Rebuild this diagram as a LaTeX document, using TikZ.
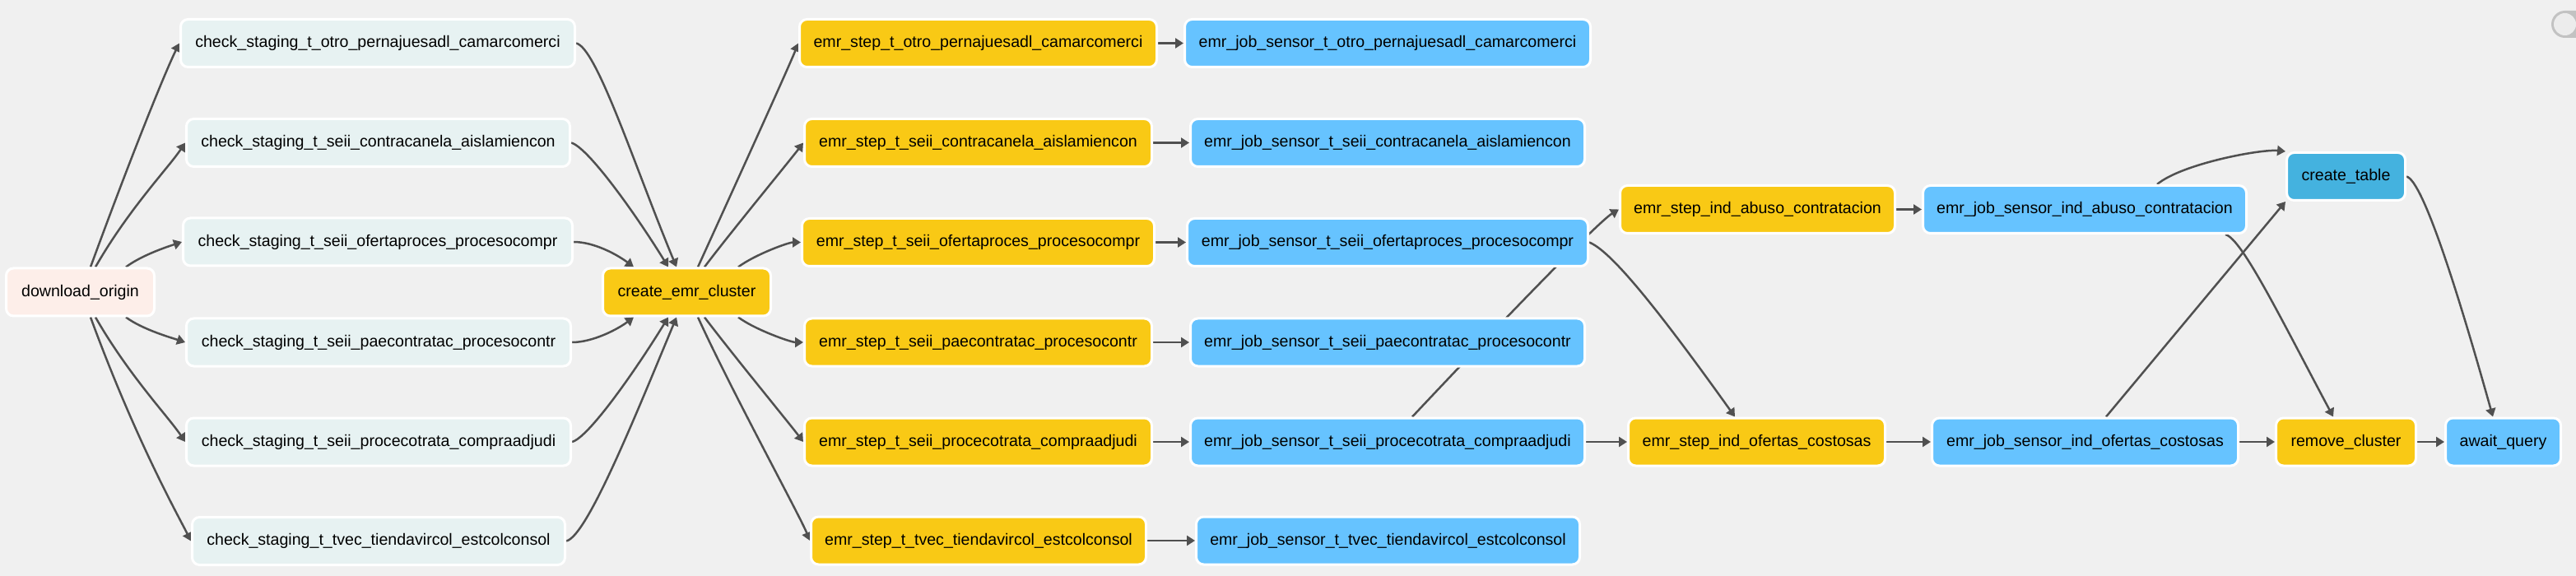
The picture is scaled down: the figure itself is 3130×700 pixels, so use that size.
\documentclass[tikz,border=0pt]{standalone}
\usepackage{fontspec}
\setmainfont{Liberation Sans}
\usetikzlibrary{arrows.meta}
\definecolor{bgc}{HTML}{F0F0F0}
\definecolor{chkc}{HTML}{E7F2F2}
\definecolor{dlc}{HTML}{FDEEE9}
\definecolor{yelc}{HTML}{F9C915}
\definecolor{lbc}{HTML}{66C3FF}
\definecolor{ctc}{HTML}{44B2DF}
\definecolor{edgec}{HTML}{505050}
\definecolor{trackc}{HTML}{C2C2C2}
\definecolor{knobc}{HTML}{ECECEC}
\pgfdeclarelayer{bglayer}
\pgfdeclarelayer{edgelayer}
\pgfsetlayers{bglayer,edgelayer,main}
\tikzset{
  box/.style={draw=white, line width=3pt, rounded corners=9pt, minimum height=58pt,
    inner sep=0pt, text=black, font=\fontsize{19.6pt}{24pt}\selectfont},
  chk/.style={box, fill=chkc},
  dl/.style={box, fill=dlc},
  yel/.style={box, fill=yelc},
  lb/.style={box, fill=lbc},
  ctb/.style={box, fill=ctc},
  edge/.style={draw=edgec, line width=2.5pt, -{Triangle[length=10pt,width=12pt]}}
}
\begin{document}
\begin{tikzpicture}[x=1pt,y=-1pt]
\begin{pgfonlayer}{bglayer}
\fill[bgc] (0,0) rectangle (3130,700);
\end{pgfonlayer}
\path[use as bounding box] (0,0) rectangle (3130,700);
\clip (0,0) rectangle (3130,700);

% toggle in the corner
\fill[trackc, rounded corners=16.5pt] (3100,13) rectangle (3170,46);
\fill[knobc] (3116.5,29.5) circle[radius=13.5];

% nodes
\node[dl, minimum width=180pt] (do) at (97.5,355) {download\_origin};
\node[chk, minimum width=479pt] (cs1) at (459,52.5) {check\_staging\_t\_otro\_pernajuesadl\_camarcomerci};
\node[chk, minimum width=466pt] (cs2) at (459.5,173.5) {check\_staging\_t\_seii\_contracanela\_aislamiencon};
\node[chk, minimum width=473pt] (cs3) at (459,294) {check\_staging\_t\_seii\_ofertaproces\_procesocompr};
\node[chk, minimum width=467pt] (cs4) at (460,416) {check\_staging\_t\_seii\_paecontratac\_procesocontr};
\node[chk, minimum width=467pt] (cs5) at (460,537) {check\_staging\_t\_seii\_procecotrata\_compraadjudi};
\node[chk, minimum width=453pt] (cs6) at (460,657.5) {check\_staging\_t\_tvec\_tiendavircol\_estcolconsol};
\node[yel, minimum width=204pt] (cec) at (834.5,355) {create\_emr\_cluster};
\node[yel, minimum width=434pt] (es1) at (1188.5,52.5) {emr\_step\_t\_otro\_pernajuesadl\_camarcomerci};
\node[yel, minimum width=422pt] (es2) at (1188.5,173.5) {emr\_step\_t\_seii\_contracanela\_aislamiencon};
\node[yel, minimum width=428pt] (es3) at (1188.5,294.5) {emr\_step\_t\_seii\_ofertaproces\_procesocompr};
\node[yel, minimum width=422pt] (es4) at (1188.5,416) {emr\_step\_t\_seii\_paecontratac\_procesocontr};
\node[yel, minimum width=422pt] (es5) at (1188.5,537) {emr\_step\_t\_seii\_procecotrata\_compraadjudi};
\node[yel, minimum width=407pt] (es6) at (1189,657) {emr\_step\_t\_tvec\_tiendavircol\_estcolconsol};
\node[lb, minimum width=493pt] (js1) at (1686,52.5) {emr\_job\_sensor\_t\_otro\_pernajuesadl\_camarcomerci};
\node[lb, minimum width=479pt] (js2) at (1686,173.5) {emr\_job\_sensor\_t\_seii\_contracanela\_aislamiencon};
\node[lb, minimum width=487pt] (js3) at (1686,294.5) {emr\_job\_sensor\_t\_seii\_ofertaproces\_procesocompr};
\node[lb, minimum width=479pt] (js4) at (1686,416) {emr\_job\_sensor\_t\_seii\_paecontratac\_procesocontr};
\node[lb, minimum width=479pt] (js5) at (1686,537) {emr\_job\_sensor\_t\_seii\_procecotrata\_compraadjudi};
\node[lb, minimum width=466pt] (js6) at (1686.5,657) {emr\_job\_sensor\_t\_tvec\_tiendavircol\_estcolconsol};
\node[yel, minimum width=334pt] (ea) at (2135.5,254.5) {emr\_step\_ind\_abuso\_contratacion};
\node[lb, minimum width=393pt] (ja) at (2533,254.5) {emr\_job\_sensor\_ind\_abuso\_contratacion};
\node[ctb, minimum width=144pt] (ct) at (2850.5,214.5) {create\_table};
\node[yel, minimum width=312pt] (eo) at (2134.5,537) {emr\_step\_ind\_ofertas\_costosas};
\node[lb, minimum width=372pt] (jo) at (2533.5,537) {emr\_job\_sensor\_ind\_ofertas\_costosas};
\node[yel, minimum width=170pt] (rc) at (2850.5,537) {remove\_cluster};
\node[lb, minimum width=140pt] (aq) at (3041.5,537) {await\_query};

\begin{pgfonlayer}{edgelayer}
% download_origin -> checks
\draw[edge] ([xshift=12.5pt]do.north) .. controls +(55,-150) and +(-15,30) .. (cs1.west);
\draw[edge] ([xshift=18.5pt]do.north) .. controls +(40,-70) and +(-20,30) .. (cs2.west);
\draw[edge] ([xshift=55.5pt]do.north) .. controls +(20,-15) and +(-15,5) .. (cs3.west);
\draw[edge] ([xshift=55.5pt]do.south) .. controls +(20,15) and +(-15,-5) .. (cs4.west);
\draw[edge] ([xshift=18.5pt]do.south) .. controls +(40,70) and +(-20,-30) .. (cs5.west);
\draw[edge] ([xshift=12.5pt]do.south) .. controls +(55,150) and +(-15,-30) .. (cs6.west);
% checks -> create_emr_cluster
\draw[edge] (cs1.east) .. controls +(25,5) and +(-50,-120) .. ([xshift=-12.5pt]cec.north);
\draw[edge] (cs2.east) .. controls +(20,5) and +(-40,-65) .. ([xshift=-22.5pt]cec.north);
\draw[edge] (cs3.east) .. controls +(25,0) and +(-20,-15) .. ([xshift=-64.5pt]cec.north);
\draw[edge] (cs4.east) .. controls +(25,0) and +(-20,15) .. ([xshift=-64.5pt]cec.south);
\draw[edge] (cs5.east) .. controls +(20,-5) and +(-40,65) .. ([xshift=-22.5pt]cec.south);
\draw[edge] (cs6.east) .. controls +(25,-5) and +(-50,120) .. ([xshift=-12.5pt]cec.south);
% create_emr_cluster -> steps
\draw[edge] ([xshift=13.5pt]cec.north) .. controls +(41,-90) and +(-12,30) .. (es1.west);
\draw[edge] ([xshift=21.5pt]cec.north) .. controls +(30,-40) and +(-15,20) .. (es2.west);
\draw[edge] ([xshift=62.5pt]cec.north) .. controls +(20,-15) and +(-15,0) .. (es3.west);
\draw[edge] ([xshift=62.5pt]cec.south) .. controls +(20,15) and +(-15,0) .. (es4.west);
\draw[edge] ([xshift=21.5pt]cec.south) .. controls +(30,40) and +(-15,-20) .. (es5.west);
\draw[edge] ([xshift=13.5pt]cec.south) .. controls +(41,90) and +(-12,-30) .. (es6.west);
% steps -> sensors
\draw[edge] (es1.east) -- (js1.west);
\draw[edge] (es2.east) -- (js2.west);
\draw[edge] (es3.east) -- (js3.west);
\draw[edge] (es4.east) -- (js4.west);
\draw[edge] (es5.east) -- (js5.west);
\draw[edge] (es6.east) -- (js6.west);
% sensors -> indicator steps
\draw[edge] ([xshift=30pt]js5.north) .. controls +(160,-170) and +(-20,12) .. (ea.west);
\draw[edge] (js3.east) .. controls +(25,10) and +(-100,-140) .. ([xshift=-26.5pt]eo.north);
\draw[edge] (js5.east) -- (eo.west);
\draw[edge] (ea.east) -- (ja.west);
\draw[edge] (eo.east) -- (jo.west);
% right part
\draw[edge] ([xshift=88pt]ja.north) .. controls +(30,-25) and +(-30,-3) .. (ct.north west);
\draw[edge] ([xshift=25.5pt]jo.north) -- (ct.south west);
\draw[edge] ([xshift=171pt]ja.south) .. controls +(20,5) and +(-64,-120) .. ([xshift=-15.5pt]rc.north);
\draw[edge] (jo.east) -- (rc.west);
\draw[edge] (rc.east) -- (aq.west);
\draw[edge] (ct.east) .. controls +(20,5) and +(-42,-150) .. ([xshift=-12.5pt]aq.north);
\end{pgfonlayer}
\end{tikzpicture}
\end{document}
